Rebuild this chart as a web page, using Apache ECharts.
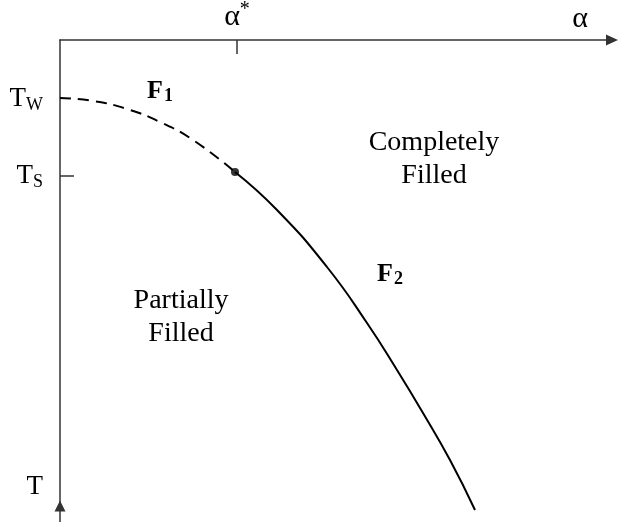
<!DOCTYPE html>
<html>
<head>
<meta charset="utf-8">
<script src="https://cdn.jsdelivr.net/npm/echarts@6/dist/echarts.min.js"></script>
<style>
  html, body { margin: 0; padding: 0; background: #fff; }
  #chart { width: 623px; height: 522px; }
</style>
</head>
<body>
<div id="chart"></div>
<script>
// 曲线数据 (α, T)
const f1Points = [[0, 424], [33, 421], [67, 413], [100, 400], [133, 382], [175, 350]]; // 虚线段 F1
const f2Points = [[175, 350], [217, 312], [267, 255], [307, 199], [337, 152], [363, 109], [390, 62], [415, 12]]; // 实线段 F2
const switchPoint = [[175, 350]]; // α* 处的点

// 轴上的刻度与标签
const xLabelValues = [177, 520];
const xLabelTexts = ['α{sup|*}', 'α'];
const xTickValues = [177];
const yLabelValues = [423, 346, 35];
const yLabelTexts = ['T{sub|W}', 'T{sub|S}', 'T'];
const yTickValues = [346];

const serif = 'Liberation Serif';
const axisColor = '#333';

const chart = echarts.init(document.getElementById('chart'));

const option = {
  backgroundColor: '#fff',
  animation: false,
  grid: { left: 60, top: 40, right: 11, bottom: 0 },
  xAxis: {
    type: 'value',
    position: 'top',
    min: 0,
    max: 552,
    splitLine: { show: false },
    axisLine: {
      onZero: false,
      lineStyle: { color: axisColor, width: 1.5 },
      symbol: ['none', 'triangle'],
      symbolSize: [11, 12],
    },
    axisTick: {
      show: true,
      inside: true,
      length: 14,
      customValues: xTickValues,
      lineStyle: { color: axisColor, width: 1.5 },
    },
    axisLabel: {
      customValues: xLabelValues,
      margin: 6,
      color: '#000',
      fontFamily: serif,
      fontSize: 30,
      formatter: (v) => xLabelTexts[xLabelValues.indexOf(v)],
      rich: {
        sup: { fontSize: 20, fontFamily: serif, color: '#000', verticalAlign: 'top', padding: [0, 0, 14, 0] },
      },
    },
  },
  yAxis: {
    type: 'value',
    min: 0,
    max: 482,
    splitLine: { show: false },
    axisLine: {
      onZero: false,
      lineStyle: { color: axisColor, width: 1.5 },
      // 底部向上的箭头
      symbol: ['path://M0,0L10,0L5,10Z', 'none'],
      symbolSize: [11, 12],
      symbolOffset: [16, 0],
    },
    axisTick: {
      show: true,
      inside: true,
      length: 14,
      customValues: yTickValues,
      lineStyle: { color: axisColor, width: 1.5 },
    },
    axisLabel: {
      customValues: yLabelValues,
      margin: 17,
      color: '#000',
      fontFamily: serif,
      fontSize: 27,
      formatter: (v) => yLabelTexts[yLabelValues.indexOf(v)],
      rich: {
        sub: { fontSize: 18, fontFamily: serif, color: '#000', verticalAlign: 'bottom', padding: [12, 0, 0, 0] },
      },
    },
  },
  graphic: [
    {
      type: 'text',
      x: 434, y: 159,
      style: {
        text: 'Completely\nFilled', font: '28px "Liberation Serif"', lineHeight: 33,
        fill: '#000', align: 'center', verticalAlign: 'middle',
      },
    },
    {
      type: 'text',
      x: 181, y: 317,
      style: {
        text: 'Partially\nFilled', font: '28px "Liberation Serif"', lineHeight: 33,
        fill: '#000', align: 'center', verticalAlign: 'middle',
      },
    },
    {
      type: 'text',
      x: 160, y: 91,
      style: {
        text: 'F{s|1}', fill: '#000', align: 'center', verticalAlign: 'middle',
        font: 'bold 26px "Liberation Serif"',
        rich: { s: { font: 'bold 18px "Liberation Serif"', padding: [10, 0, 0, 1] } },
      },
    },
    {
      type: 'text',
      x: 390, y: 274,
      style: {
        text: 'F{s|2}', fill: '#000', align: 'center', verticalAlign: 'middle',
        font: 'bold 26px "Liberation Serif"',
        rich: { s: { font: 'bold 18px "Liberation Serif"', padding: [10, 0, 0, 1] } },
      },
    },
  ],
  series: [
    {
      name: 'F1',
      type: 'line',
      data: f1Points,
      smooth: 0.5,
      showSymbol: false,
      lineStyle: { color: '#000', width: 2, type: [11, 7] },
    },
    {
      name: 'F2',
      type: 'line',
      data: f2Points,
      smooth: 0.5,
      showSymbol: false,
      lineStyle: { color: '#000', width: 2 },
    },
    {
      type: 'scatter',
      data: switchPoint,
      symbolSize: 8,
      itemStyle: { color: '#000' },
    },
  ],
};

chart.setOption(option);
</script>
</body>
</html>
